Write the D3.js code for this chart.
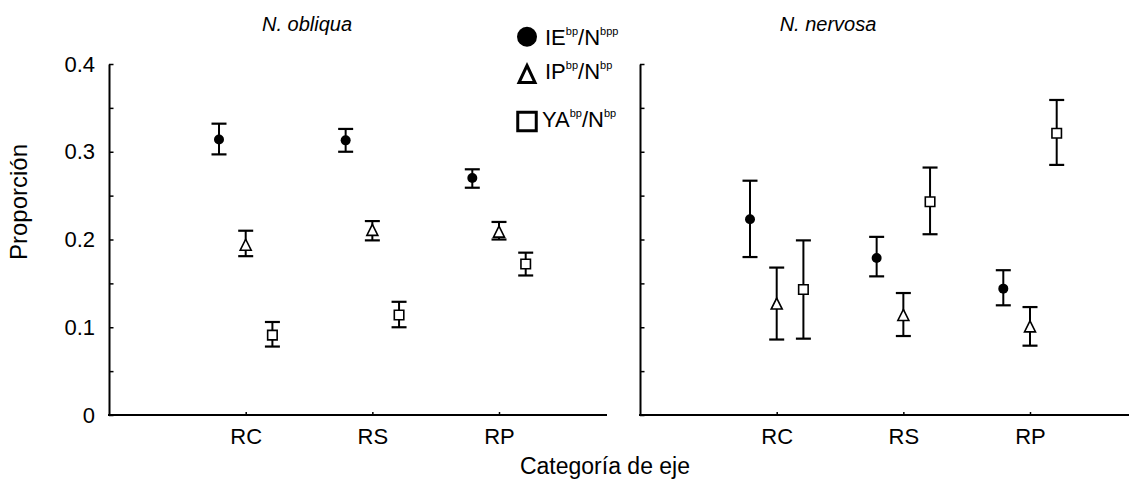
<!DOCTYPE html>
<html>
<head>
<meta charset="utf-8">
<script src="https://cdn.jsdelivr.net/npm/d3@7"></script>
<style>
body { margin: 0; background: #fff; }
text { font-family: "Liberation Sans", Arial, sans-serif; fill: #000; }
</style>
</head>
<body>
<svg id="chart" width="1129" height="483"></svg>
<script>
// data
var categories = ["RC", "RS", "RP"];
var series = ["IE", "IP", "YA"];
var yTicks = [0, 0.1, 0.2, 0.3, 0.4];
var yMinorTicks = [0.05, 0.15, 0.25, 0.35];

// N. obliqua
var obliquaIE = [0.314, 0.313, 0.270];
var obliquaIELow = [0.297, 0.300, 0.259];
var obliquaIEHigh = [0.332, 0.326, 0.280];
var obliquaIP = [0.194, 0.211, 0.209];
var obliquaIPLow = [0.181, 0.199, 0.200];
var obliquaIPHigh = [0.210, 0.221, 0.220];
var obliquaYA = [0.091, 0.114, 0.172];
var obliquaYALow = [0.078, 0.100, 0.159];
var obliquaYAHigh = [0.106, 0.129, 0.185];

// N. nervosa
var nervosaIE = [0.223, 0.179, 0.144];
var nervosaIELow = [0.180, 0.158, 0.125];
var nervosaIEHigh = [0.267, 0.203, 0.165];
var nervosaIP = [0.127, 0.114, 0.101];
var nervosaIPLow = [0.086, 0.090, 0.079];
var nervosaIPHigh = [0.168, 0.139, 0.123];
var nervosaYA = [0.143, 0.243, 0.321];
var nervosaYALow = [0.087, 0.206, 0.285];
var nervosaYAHigh = [0.199, 0.282, 0.359];

function buildRows(mean, low, high, name){
	return categories.map(function(c, i){
		return {cat: c, s: name, v: mean[i], lo: low[i], hi: high[i]};
	});
}

var panels = [
	{title: "N. obliqua", x0: 109, x1: 607, titleX: 307, labels: true,
	 rows: [].concat(
		buildRows(obliquaIE, obliquaIELow, obliquaIEHigh, "IE"),
		buildRows(obliquaIP, obliquaIPLow, obliquaIPHigh, "IP"),
		buildRows(obliquaYA, obliquaYALow, obliquaYAHigh, "YA"))},
	{title: "N. nervosa", x0: 640, x1: 1140, titleX: 828, labels: false,
	 rows: [].concat(
		buildRows(nervosaIE, nervosaIELow, nervosaIEHigh, "IE"),
		buildRows(nervosaIP, nervosaIPLow, nervosaIPHigh, "IP"),
		buildRows(nervosaYA, nervosaYALow, nervosaYAHigh, "YA"))}
];

const svg = d3.select("#chart");
const yTopPx = 64, yBotPx = 415;

const y = d3.scaleLinear().domain([0, 0.4]).range([yBotPx, yTopPx]);
const offset = d3.scalePoint().domain(series).range([-26.7, 26.7]);

// triangle path centred on 0,0
function tri(w, h){
	return "M0," + (-h / 2) + "L" + (w / 2) + "," + (h / 2) + "L" + (-w / 2) + "," + (h / 2) + "Z";
}
function sq(s){
	return "M" + (-s / 2) + "," + (-s / 2) + "h" + s + "v" + s + "h" + (-s) + "Z";
}

function drawPanel(p){
	const g = svg.append("g");
	const x = d3.scalePoint().domain(categories).range([p.x0 + 136.7, p.x0 + 390]);

	// y axis
	const yAxis = d3.axisLeft(y)
		.tickValues(yTicks.concat(yMinorTicks))
		.tickSizeInner(-4.5)
		.tickSizeOuter(0)
		.tickPadding(14)
		.tickFormat(function(d){
			if(!p.labels || yTicks.indexOf(d) < 0) return "";
			return d === 0 ? "0" : d3.format(".1f")(d);
		});
	const ya = g.append("g")
		.attr("transform", `translate(${p.x0}, 0)`)
		.call(yAxis);
	ya.select(".domain").attr("stroke", "#000").attr("stroke-width", 2);
	ya.selectAll(".tick line").attr("stroke", "#000").attr("stroke-width", 1.5);
	ya.selectAll(".tick text").attr("font-size", 22).attr("font-family", null);

	// x axis
	const xAxis = d3.axisBottom(x).tickSizeInner(-3).tickSizeOuter(0).tickPadding(13);
	const xa = g.append("g")
		.attr("transform", `translate(0, ${yBotPx})`)
		.call(xAxis);
	xa.select(".domain").remove();
	xa.selectAll(".tick line").attr("stroke", "#000").attr("stroke-width", 1.5);
	xa.selectAll(".tick text").attr("font-size", 22).attr("font-family", null);
	g.append("line")
		.attr("x1", p.x0 - 1).attr("x2", p.x1)
		.attr("y1", yBotPx).attr("y2", yBotPx)
		.attr("stroke", "#000").attr("stroke-width", 2);

	// title
	g.append("text")
		.attr("x", p.titleX)
		.attr("y", 31)
		.attr("text-anchor", "middle")
		.attr("font-size", 20)
		.attr("font-style", "italic")
		.text(p.title);

	// error bars
	const eb = g.selectAll(".eb").data(p.rows).enter().append("g")
		.attr("class", "eb")
		.attr("transform", function(d){ return `translate(${x(d.cat) + offset(d.s)}, 0)`; });
	eb.append("line")
		.attr("x1", 0).attr("x2", 0)
		.attr("y1", function(d){ return y(d.lo); })
		.attr("y2", function(d){ return y(d.hi); })
		.attr("stroke", "#000").attr("stroke-width", 2);
	eb.append("line")
		.attr("x1", -7.5).attr("x2", 7.5)
		.attr("y1", function(d){ return y(d.hi); })
		.attr("y2", function(d){ return y(d.hi); })
		.attr("stroke", "#000").attr("stroke-width", 2.2);
	eb.append("line")
		.attr("x1", -7.5).attr("x2", 7.5)
		.attr("y1", function(d){ return y(d.lo); })
		.attr("y2", function(d){ return y(d.lo); })
		.attr("stroke", "#000").attr("stroke-width", 2.2);

	// markers
	eb.append("path")
		.attr("transform", function(d){ return `translate(0, ${y(d.v)})`; })
		.attr("d", function(d){
			if(d.s === "IE") return d3.symbol(d3.symbolCircle, Math.PI * 25)();
			if(d.s === "IP") return tri(11, 11);
			return sq(9.5);
		})
		.attr("fill", function(d){ return d.s === "IE" ? "#000" : "#fff"; })
		.attr("stroke", "#000")
		.attr("stroke-width", function(d){ return d.s === "IE" ? 0 : 1.6; });
}

panels.forEach(drawPanel);

// axis titles
svg.append("text")
	.attr("transform", "rotate(-90)")
	.attr("x", -202)
	.attr("y", 27)
	.attr("text-anchor", "middle")
	.attr("font-size", 24)
	.text("Proporción");

svg.append("text")
	.attr("x", 605)
	.attr("y", 474)
	.attr("text-anchor", "middle")
	.attr("font-size", 23)
	.text("Categoría de eje");

// legend
var legendRows = [
	{s: "IE", main: "IE", sup1: "bp", sup2: "bpp", cy: 36.7, base: 45, tx: 545},
	{s: "IP", main: "IP", sup1: "bp", sup2: "bp", cy: 74, base: 79, tx: 545},
	{s: "YA", main: "YA", sup1: "bp", sup2: "bp", cy: 121.5, base: 127, tx: 542}
];
const leg = svg.append("g");
legendRows.forEach(function(r){
	let d;
	if(r.s === "IE") d = d3.symbol(d3.symbolCircle, Math.PI * 100)();
	else if(r.s === "IP") d = tri(16, 17);
	else d = sq(18.5);
	leg.append("path")
		.attr("transform", `translate(527, ${r.cy})`)
		.attr("d", d)
		.attr("fill", r.s === "IE" ? "#000" : "#fff")
		.attr("stroke", "#000")
		.attr("stroke-width", r.s === "IE" ? 0 : 3);
	const t = leg.append("text")
		.attr("x", r.tx)
		.attr("y", r.base)
		.attr("font-size", 22);
	t.append("tspan").text(r.main);
	t.append("tspan").attr("dy", -10).attr("font-size", 11).text(r.sup1);
	t.append("tspan").attr("dy", 10).text("/N");
	t.append("tspan").attr("dy", -10).attr("font-size", 11).text(r.sup2);
});
</script>
</body>
</html>
